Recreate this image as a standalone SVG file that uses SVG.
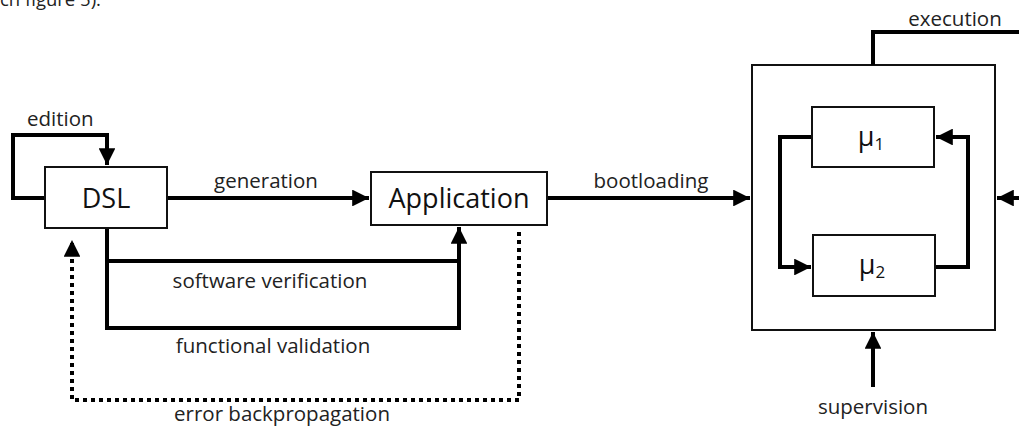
<svg xmlns="http://www.w3.org/2000/svg" width="1019" height="432" viewBox="0 0 1019 432">
  <style>
    .box { fill: #fff; stroke: #111; stroke-width: 2; }
    .wire { fill: none; stroke: #000; stroke-width: 4; }
    .dots { fill: none; stroke: #000; stroke-width: 4; stroke-dasharray: 4 4; }
    .lbl { font-family: "Open Sans", "Noto Sans", sans-serif; font-size: 20.5px; fill: #222; }
    .name { font-family: "Open Sans", "Noto Sans", sans-serif; font-size: 27px; fill: #111; text-anchor: middle; }
  </style>
  <defs>
    <marker id="head" viewBox="0 0 10 10" refX="10" refY="5" markerWidth="4.2" markerHeight="4.2" markerUnits="strokeWidth" orient="auto">
      <path d="M0,0 L10,5 L0,10 Z" fill="#000"/>
    </marker>
  </defs>
  <rect width="1019" height="432" fill="#fff"/>

  <!-- caption fragment at the top edge -->
  <text class="lbl" x="0" y="6" style="font-size:18.5px">ch figure 5).</text>

  <!-- outer runtime frame sits beneath the wires -->
  <g id="runtime">
    <rect class="box" x="752" y="65" width="243" height="265"/>
  </g>

  <g id="connectors">
    <!-- edition loop -->
    <path class="wire" d="M45,198 H13 V135 H107 V165" marker-end="url(#head)"/>
    <!-- generation -->
    <path class="wire" d="M167,198 H369" marker-end="url(#head)"/>
    <!-- bootloading -->
    <path class="wire" d="M547,198 H750" marker-end="url(#head)"/>
    <!-- verification / validation -->
    <path class="wire" d="M107,228 V328 H459 V227" marker-end="url(#head)"/>
    <path class="wire" d="M107,261 H459"/>
    <!-- error backpropagation -->
    <path class="dots" d="M519,232 V400 H72 V240" marker-end="url(#head)"/>
    <!-- execution -->
    <path class="wire" d="M873,65 V32 H1019"/>
    <!-- right input -->
    <path class="wire" d="M1019,198 H997" marker-end="url(#head)"/>
    <!-- supervision -->
    <path class="wire" d="M873,387 V332" marker-end="url(#head)"/>
    <!-- internal loop -->
    <path class="wire" d="M812,137 H780 V267 H811" marker-end="url(#head)"/>
    <path class="wire" d="M935,267 H968 V137 H936" marker-end="url(#head)"/>
  </g>

  <g id="labels">
    <text class="lbl" x="27" y="126">edition</text>
    <text class="lbl" x="266" y="188" text-anchor="middle">generation</text>
    <text class="lbl" x="651" y="188" text-anchor="middle">bootloading</text>
    <text class="lbl" x="955" y="26" text-anchor="middle">execution</text>
    <text class="lbl" x="270" y="288" text-anchor="middle">software verification</text>
    <text class="lbl" x="273" y="353" text-anchor="middle">functional validation</text>
    <text class="lbl" x="282" y="421" text-anchor="middle">error backpropagation</text>
    <text class="lbl" x="873" y="414" text-anchor="middle">supervision</text>
  </g>

  <g id="dsl">
    <rect class="box" x="45" y="167" width="122" height="61"/>
    <text class="name" x="106" y="208">DSL</text>
  </g>
  <g id="application">
    <rect class="box" x="371" y="172" width="176" height="53"/>
    <text class="name" x="459" y="208">Application</text>
  </g>
  <g id="mu1">
    <rect class="box" x="812" y="107" width="122" height="60"/>
    <text class="name" x="871" y="146">μ<tspan font-size="17" dy="4">1</tspan></text>
  </g>
  <g id="mu2">
    <rect class="box" x="813" y="235" width="122" height="61"/>
    <text class="name" x="872" y="274">μ<tspan font-size="17" dy="4">2</tspan></text>
  </g>
</svg>
